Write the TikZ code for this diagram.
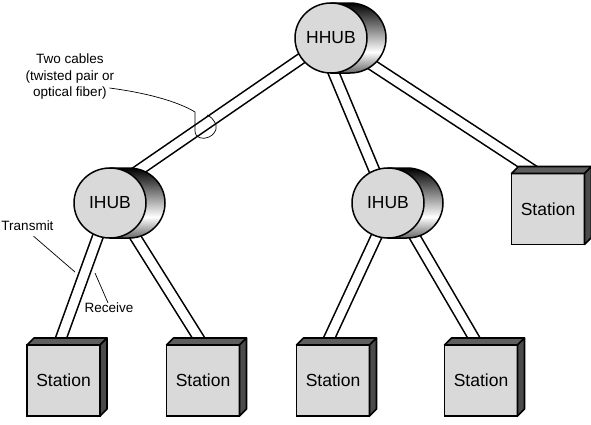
\documentclass[tikz,border=0pt]{standalone}
\usepackage{fontspec}
\setsansfont{Liberation Sans}
\usepackage{xcolor}
\definecolor{faceGray}{HTML}{D9D9D9}
\definecolor{boxTop}{HTML}{5E5E5E}
\definecolor{boxSide}{HTML}{4B4B4B}
\usepackage{tikz}
\usetikzlibrary{
    shapes.geometric,
    positioning,
    backgrounds
}
% dark at the top, white low down, grey at the bottom
\pgfdeclareverticalshading{hubBack}{100bp}{
    color(0bp)=(black!60); color(25bp)=(black!60); color(40bp)=(white);
    color(75bp)=(black); color(100bp)=(black)}
\tikzset{
    % Base style for the text in hubs and stations
    unit base/.style={
        font=\sffamily\fontsize{17.5pt}{20pt}\selectfont,
        text=black,
        draw=black,
        fill=faceGray,
        inner sep=0pt,
        outer sep=0pt,
    },
    % Hub - front disc of a short cylinder
    hub/.style={
        unit base,
        ellipse,
        line width=1.5pt,
        minimum width=72pt,
        minimum height=70pt,
    },
    % Back of the hub cylinder
    hub back/.style={
        draw=black,
        line width=1.5pt,
        shade,
        shading=hubBack,
    },
    % Station - front face of a box
    station/.style={
        unit base,
        rectangle,
        line width=1.6pt,
        minimum width=73pt,
        minimum height=71pt,
    },
    % Top and side faces of a station box
    box top/.style={
        draw=black,
        line width=1.6pt,
        line join=round,
        fill=boxTop,
    },
    box side/.style={
        box top,
        fill=boxSide,
    },
    % Cable pair - two parallel lines
    cable/.style={
        draw=black,
        line width=1.6pt,
        double=white,
        double distance=9pt,
    },
    % Thin leader line for the notes
    leader/.style={
        draw=black,
        line width=0.7pt,
    },
    % Note text
    note/.style={
        font=\sffamily\fontsize{13.5pt}{16.5pt}\selectfont,
        align=center,
        inner sep=0pt,
    },
}

\begin{document}
\begin{tikzpicture}[x=1pt, y=-1pt, on grid]
    \useasboundingbox (0,0) rectangle (591,424);

    \node (hhub) [hub] at (331,38) {HHUB};
    \node (ihubL) [hub, below left=165pt and 221pt of hhub] {IHUB};
    \node (ihubR) [hub, below right=165pt and 57pt of hhub] {IHUB};
    \node (st5) [station, below right=171pt and 217pt of hhub] {Station};
    \node (st1) [station, below left=177.5pt and 46.5pt of ihubL] {Station};
    \node (st2) [station, below right=177.5pt and 93pt of ihubL] {Station};
    \node (st3) [station, below left=177.5pt and 55pt of ihubR] {Station};
    \node (st4) [station, below right=177.5pt and 93pt of ihubR] {Station};

    \foreach \s in {st1, st2, st3, st4, st5} {
        \draw [box top] (\s.north west) -- ++(7pt,7pt)
            -- ([shift={(7pt,7pt)}]\s.north east) -- (\s.north east) -- cycle;
        \draw [box side] (\s.north east) -- ++(7pt,7pt)
            -- ([shift={(7pt,7pt)}]\s.south east) -- (\s.south east) -- cycle;
    }

    \begin{scope}[on background layer]
        \draw [cable] (hhub.center) -- ([yshift=13pt]ihubL.center);
        \draw [cable] ([xshift=-12pt]hhub.center) -- (ihubR.center);
        \draw [cable] (hhub.center) -- ([xshift=-10pt]st5.north);
        \draw [cable] (ihubL.center) -- ([xshift=-5pt]st1.north);
        \draw [cable] ([xshift=4pt]ihubL.center) -- (st2.north);
        \draw [cable] ([xshift=4pt]ihubR.center) -- ([xshift=-7pt]st3.north);
        \draw [cable] ([xshift=7pt]ihubR.center) -- ([xshift=-3pt]st4.north);
        \foreach \h in {hhub, ihubL, ihubR}
            \draw [hub back] (\h.north) -- ++(19pt,0pt)
                arc[start angle=90, end angle=-90, x radius=36pt, y radius=35pt]
                -- (\h.south) -- cycle;
    \end{scope}

    % notes
    \node (cablenote) [note] at (70,77) {Two cables\\(twisted pair or\\optical fiber)};
    \node (transmit) [note] at (27.5,226) {Transmit};
    \node (receive) [note] at (109,308) {Receive};

    \coordinate (cableloop) at (195,112);
    \coordinate (txcable) at (75,272);
    \coordinate (rxcable) at (95,273);

    \draw [leader] ([shift={(-5pt,-11pt)}]cablenote.east)
        .. controls (155,94) and (182,104) .. (cableloop)
        -- (195,131) .. controls (195,138) and (203,140) .. (209,137)
        .. controls (217,133) and (218,125) .. (214,121)
        .. controls (212,118) .. (207,115);
    \draw [leader] ([shift={(6pt,-5pt)}]transmit.south) -- (txcable);
    \draw [leader] (rxcable) -- ([xshift=-1pt]receive.north);
\end{tikzpicture}
\end{document}
